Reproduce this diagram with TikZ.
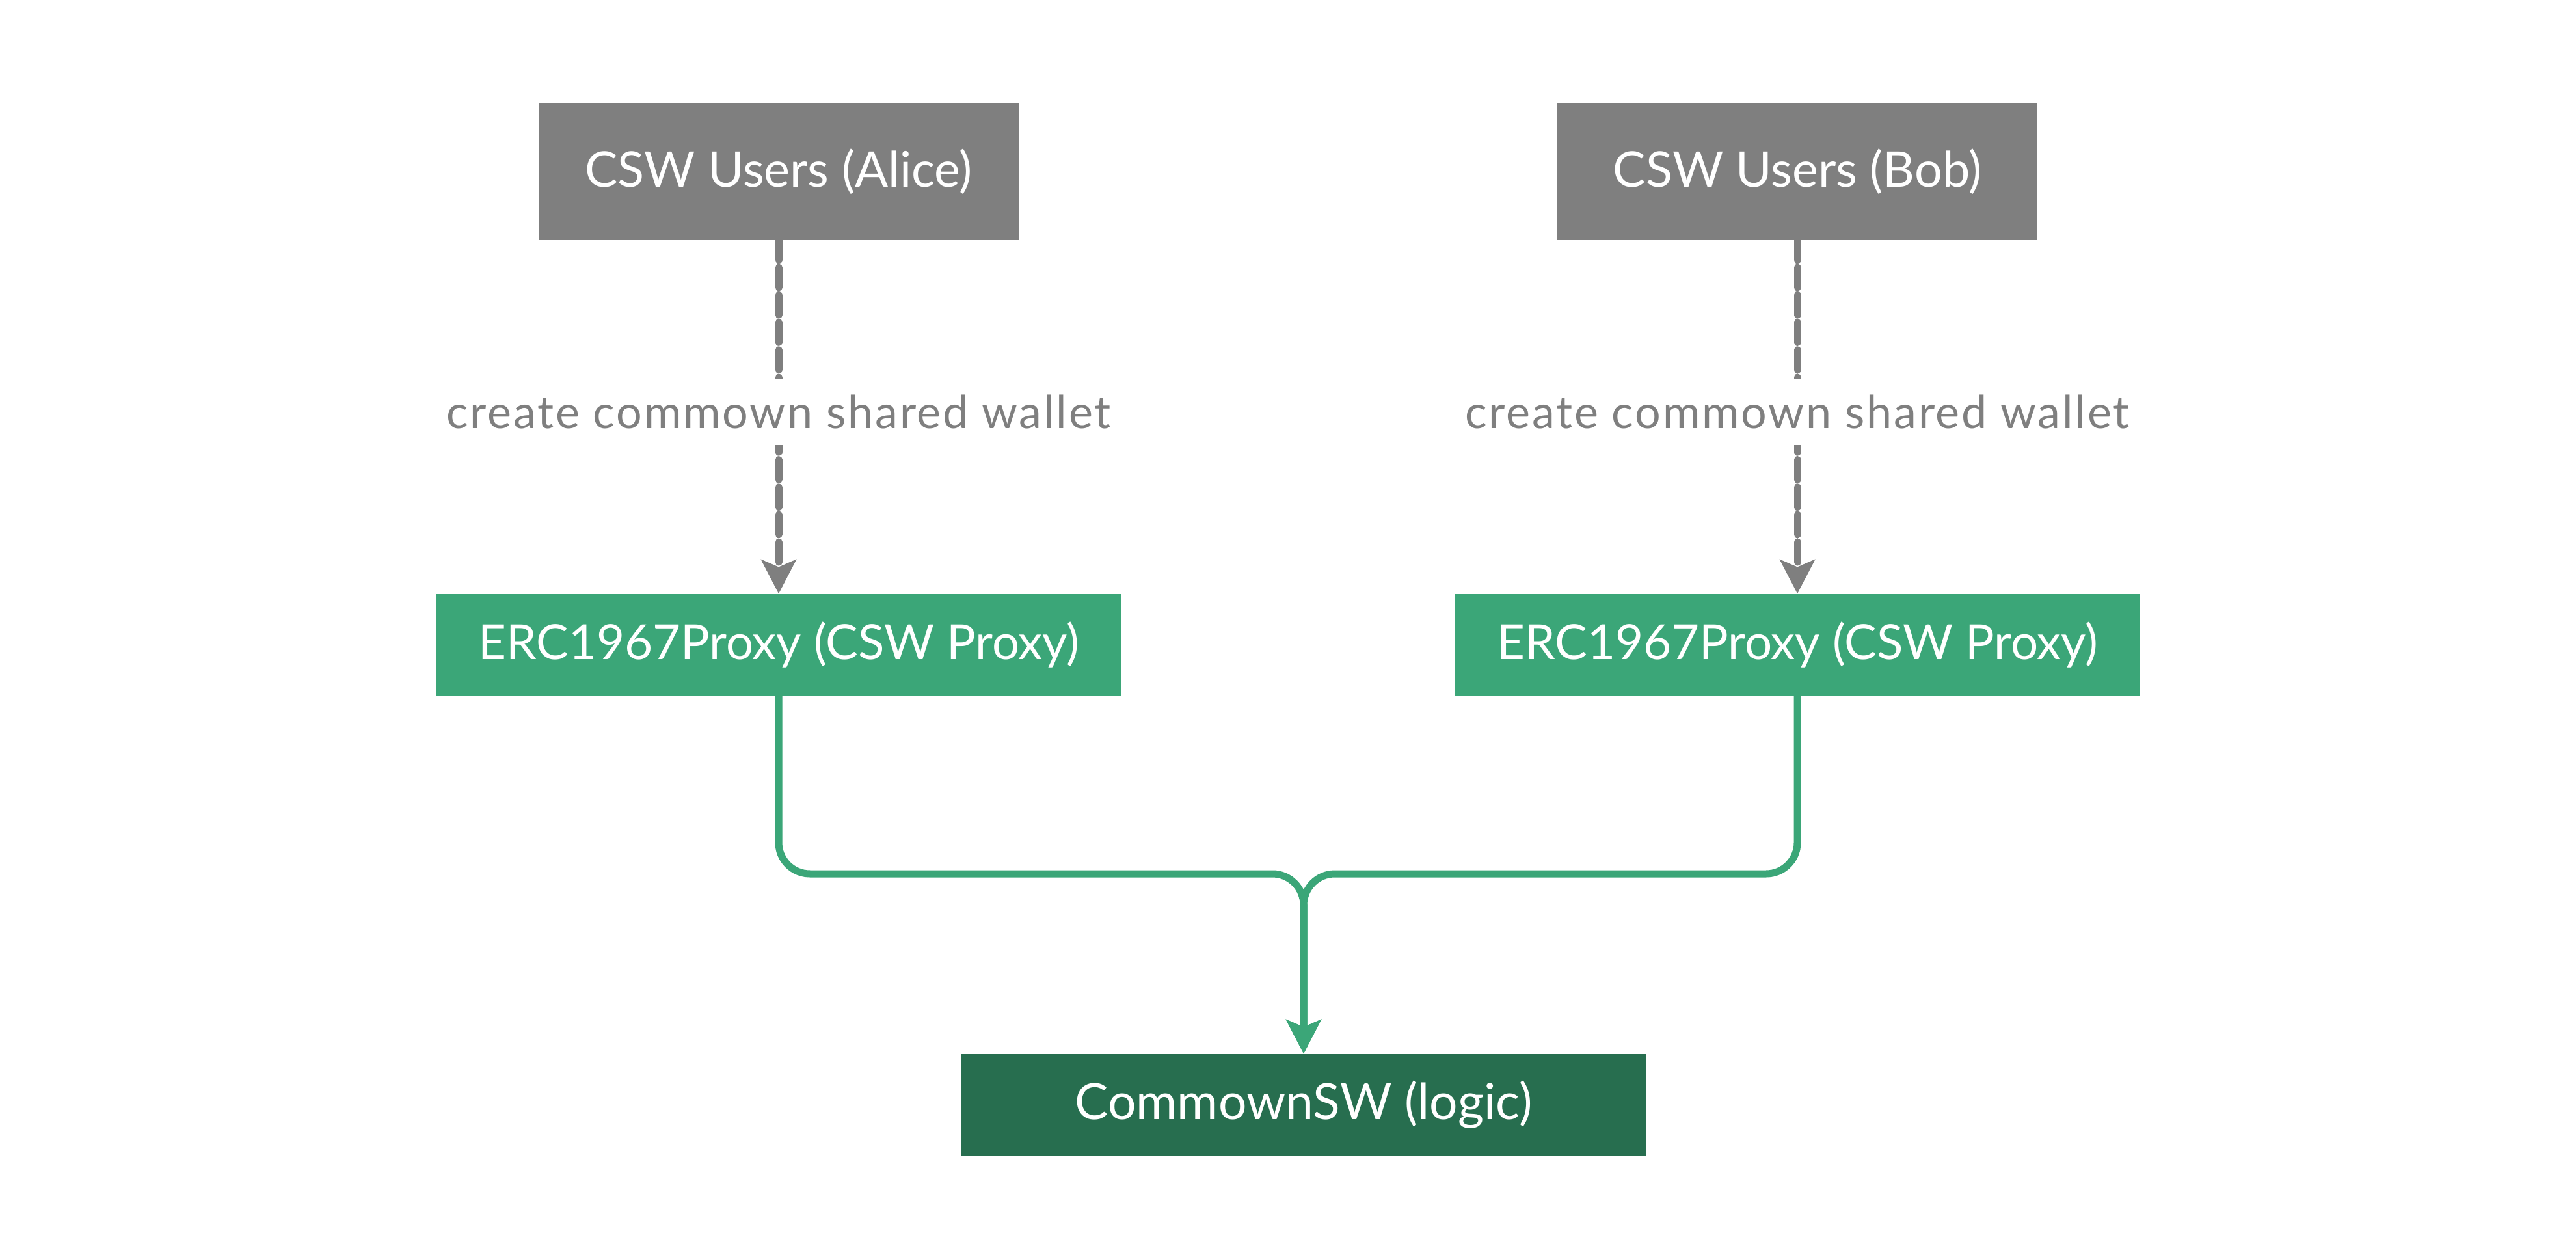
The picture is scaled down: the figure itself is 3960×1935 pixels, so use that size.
\documentclass[tikz,border=0pt]{standalone}
\usepackage{fontspec}
\setmainfont{Lato}
\newfontfamily\createfont[LetterSpace=4]{Lato}
\usetikzlibrary{arrows.meta}
\definecolor{usergray}{RGB}{127,127,127}
\definecolor{proxygreen}{RGB}{59,166,120}
\definecolor{logicgreen}{RGB}{39,110,79}

\begin{document}
\begin{tikzpicture}[x=0.25pt, y=-0.25pt,
  user/.style={fill=usergray, text=white, inner sep=0pt, outer sep=0pt,
    minimum width=184.5pt, minimum height=52.5pt,
    font=\fontsize{18.9}{22}\selectfont},
  proxy/.style={fill=proxygreen, text=white, inner sep=0pt, outer sep=0pt,
    minimum width=263.5pt, minimum height=39.25pt,
    font=\fontsize{18.6}{22}\selectfont},
  logicbox/.style={proxy, fill=logicgreen, font=\fontsize{19.2}{22}\selectfont},
  tip/.style={-{Stealth[length=13pt, width=13.25pt, inset=2.75pt]}},
  create/.style={draw=usergray, line width=2.75pt, line cap=round,
    dash pattern=on 7.7pt off 2.85pt, tip},
  createtext/.style={fill=white, text=usergray, inner xsep=2pt,
    minimum height=25.25pt, font=\createfont\fontsize{17.5}{20}\selectfont},
  link/.style={draw=proxygreen, line width=2.75pt, line cap=round,
    rounded corners=12pt, tip}
]
  \useasboundingbox (0,0) rectangle (3960,1935);

  % users
  \node[user] (alice) at (1197,264) {CSW Users (Alice)};
  \node[user] (bob) at (2763,264) {CSW Users (Bob)};

  % proxies and logic
  \node[proxy] (aliceproxy) at (1197,991) {ERC1967Proxy (CSW Proxy)};
  \node[proxy] (bobproxy) at (2763,991) {ERC1967Proxy (CSW Proxy)};
  \node[logicbox] (logic) at (2004,1698) {CommownSW (logic)};

  \coordinate (merge) at (2004,1343);

  \draw[create] (alice) -- node[pos=0.486, createtext] {create commown shared wallet} (aliceproxy);
  \draw[create] (bob) -- node[pos=0.486, createtext] {create commown shared wallet} (bobproxy);

  \draw[link] (aliceproxy.south) |- (merge) -- (logic.north);
  \draw[link] (bobproxy.south) |- (merge) -- (logic.north);
\end{tikzpicture}
\end{document}
